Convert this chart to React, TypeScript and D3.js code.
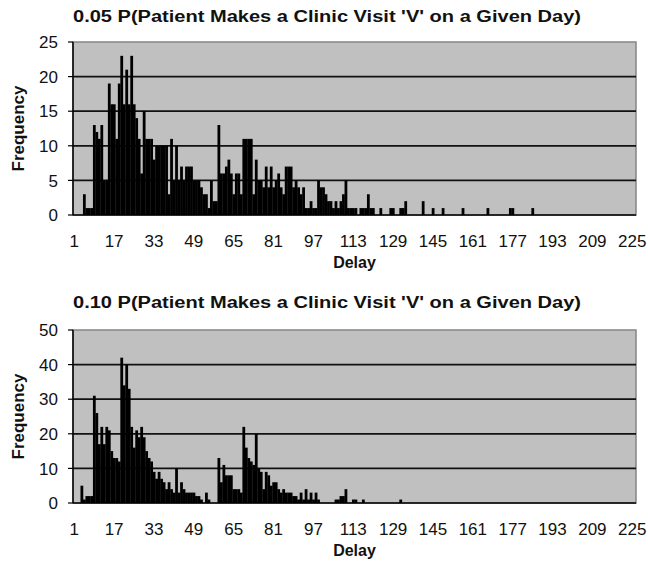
import React from "react";
import * as d3 from "d3";

const freq005: number[] = [
  0,0,0,0,3,1,1,1,13,12,
  11,13,5,5,19,16,16,11,19,23,
  16,21,16,23,16,14,11,6,15,11,
  11,11,8,10,10,10,10,10,3,11,
  5,10,5,7,5,7,7,7,5,5,
  5,4,3,3,1,5,2,2,13,6,
  6,7,8,6,3,6,6,3,11,11,
  11,11,3,8,5,5,4,7,4,7,
  4,5,6,4,3,7,7,7,4,5,
  4,3,4,1,1,2,1,1,5,4,
  4,3,2,2,1,2,1,2,3,5,
  1,1,1,1,0,1,1,1,3,1,
  1,0,0,1,0,0,0,1,1,0,
  0,1,1,2,0,0,0,0,0,0,
  2,0,0,0,1,0,0,0,1,0,
  0,0,0,0,0,0,1,0,0,0,
  0,0,0,0,0,0,1,0,0,0,
  0,0,0,0,0,1,1,0,0,0,
  0,0,0,0,1,0,0,0,0,0,
  0,0,0,0,0,0,0,0,0,0,
  0,0,0,0,0,0,0,0,0,0,
  0,0,0,0,0,0,0,0,0,0,
  0,0,0,0,0,0,
];

const freq010: number[] = [
  0,0,0,5,1,2,2,2,31,26,
  17,22,17,22,21,15,13,13,12,42,
  34,40,33,22,16,21,19,22,19,15,
  13,12,9,7,9,7,6,4,6,4,
  3,10,3,6,4,3,3,3,3,2,
  2,1,0,3,1,0,0,0,13,6,
  11,8,8,8,4,4,4,3,22,16,
  13,12,11,20,10,9,4,9,8,5,
  6,6,4,3,4,3,3,3,2,2,
  1,3,1,4,1,3,1,3,1,0,
  0,0,0,0,0,1,1,2,2,4,
  0,0,1,1,0,0,1,0,0,0,
  0,0,0,0,0,0,0,0,0,0,
  0,1,0,0,0,0,0,0,0,0,
  0,0,0,0,0,0,0,0,0,0,
  0,0,0,0,0,0,0,0,0,0,
  0,0,0,0,0,0,0,0,0,0,
  0,0,0,0,0,0,0,0,0,0,
  0,0,0,0,0,0,0,0,0,0,
  0,0,0,0,0,0,0,0,0,0,
  0,0,0,0,0,0,0,0,0,0,
  0,0,0,0,0,0,0,0,0,0,
  0,0,0,0,0,0,
];

const xTickLabels: string[] = ["1","17","33","49","65","81","97","113","129","145","161","177","193","209","225"];
const yTicks005: number[] = [0,5,10,15,20,25];
const yTicks010: number[] = [0,10,20,30,40,50];
const title005 = "0.05 P(Patient Makes a Clinic Visit 'V' on a Given Day)";
const title010 = "0.10 P(Patient Makes a Clinic Visit 'V' on a Given Day)";
const xTitle = "Delay";
const yTitle = "Frequency";

const FONT = "'Liberation Sans', Arial, sans-serif";

type PanelProps = {
  values: number[];
  yTicks: number[];
  title: string;
  top: number;
  bottom: number;
  titleY: number;
};

function Panel({ values, yTicks, title, top, bottom, titleY }: PanelProps) {
  const left = 73;
  const right = 636;
  const days = values.map((_, i) => String(i + 1));
  const x = d3.scaleBand<string>().domain(days).range([left, right]).padding(0);
  const yMax = yTicks[yTicks.length - 1];
  const y = d3.scaleLinear().domain([0, yMax]).range([bottom, top]);
  const bw = x.bandwidth();
  return (
    <g>
      <text x={73} y={titleY} fontFamily={FONT} fontWeight="bold" fontSize={16}
        textLength={508} lengthAdjust="spacingAndGlyphs" fill="#111">{title}</text>
      <rect x={left} y={top} width={right - left} height={bottom - top} fill="#c0c0c0" stroke="#858585" strokeWidth={1.5} />
      {yTicks.filter(t => t > 0 && t < yMax).map(t => (
        <line key={"g" + t} x1={left} x2={right} y1={y(t)} y2={y(t)} stroke="#111" strokeWidth={1.7} />
      ))}
      {values.map((v, i) => v > 0 ? (
        <rect key={i} x={x(days[i])!} y={y(v)} width={bw + 0.3} height={bottom - y(v)} fill="#000" />
      ) : null)}
      <line x1={left} x2={left} y1={top} y2={bottom} stroke="#000" strokeWidth={1.5} />
      <line x1={left} x2={right} y1={bottom} y2={bottom} stroke="#000" strokeWidth={1.5} />
      {yTicks.map(t => (
        <g key={"t" + t}>
          <line x1={left - 5} x2={left} y1={y(t)} y2={y(t)} stroke="#000" strokeWidth={1.2} />
          <text x={58} y={y(t)} dy="0.36em" textAnchor="end" fontFamily={FONT} fontSize={17} fill="#111">{t}</text>
        </g>
      ))}
      {xTickLabels.map(lab => (
        <text key={"x" + lab} x={x(lab)! + bw / 2} y={bottom + 32} textAnchor="middle" fontFamily={FONT} fontSize={17} fill="#111">{lab}</text>
      ))}
      <text x={(left + right) / 2} y={bottom + 53} textAnchor="middle" fontFamily={FONT} fontWeight="bold" fontSize={16} fill="#111">{xTitle}</text>
      <text transform={`translate(24,${(top + bottom) / 2}) rotate(-90)`} textAnchor="middle" fontFamily={FONT} fontWeight="bold" fontSize={17} fill="#111">{yTitle}</text>
    </g>
  );
}

export default function App() {
  return (
    <svg width={648} height={569} style={{ position: "absolute", left: 0, top: 0, display: "block", background: "#fff" }}>
      <rect x={0} y={0} width={648} height={569} fill="#fff" />
      <Panel values={freq005} yTicks={yTicks005} title={title005} top={42} bottom={215} titleY={22} />
      <Panel values={freq010} yTicks={yTicks010} title={title010} top={330} bottom={503} titleY={308} />
    </svg>
  );
}
